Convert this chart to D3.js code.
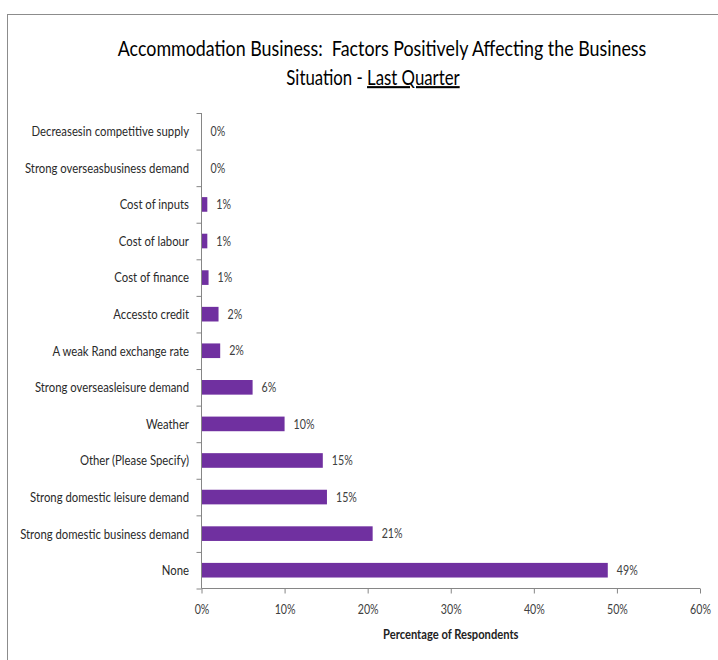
<!DOCTYPE html>
<html>
<head>
<meta charset="utf-8">
<script src="https://cdn.jsdelivr.net/npm/d3@7"></script>
<style>
  html, body { margin: 0; padding: 0; background: #fff; }
  svg { display: block; }
  text { font-family: Lato, "Open Sans", sans-serif; white-space: pre; }
</style>
</head>
<body>
<svg id="chart" width="718" height="660"></svg>
<script>
// Factors positively affecting the business situation, last quarter
const categories = [
  "Decreasesin competitive supply",
  "Strong overseasbusiness demand",
  "Cost of inputs",
  "Cost of labour",
  "Cost of finance",
  "Accessto credit",
  "A weak Rand exchange rate",
  "Strong overseasleisure demand",
  "Weather",
  "Other (Please Specify)",
  "Strong domestic leisure demand",
  "Strong domestic business demand",
  "None"
];
// Percentage of respondents
const values = [0, 0, 0.7, 0.7, 0.85, 2.05, 2.25, 6.15, 10.0, 14.6, 15.1, 20.6, 48.9];
const xTicks = [0, 10, 20, 30, 40, 50, 60];
const titleLine1 = "Accommodation Business:  Factors Positively Affecting the Business";
const titleLine2 = "Situation - ";
const titleUnderlined = "Last Quarter";
const xAxisTitle = "Percentage of Respondents";

const svg = d3.select("#chart");
const plot = { left: 201.5, right: 700, top: 113, bottom: 588.5 };
const purple = "#7030a0";
const axisGrey = "#868686";

// chart area frame
svg.append("rect")
  .attr("x", 7.5).attr("y", 14.5)
  .attr("width", 800).attr("height", 700)
  .attr("fill", "#fff").attr("stroke", "#8c8c8c").attr("stroke-width", 1);

// narrow each text horizontally about its anchor point
function condense(sel, k) {
  sel.each(function () {
    const t = d3.select(this);
    const x0 = +t.attr("x") || 0, y0 = +t.attr("y") || 0;
    t.attr("x", 0).attr("y", 0)
      .attr("transform", `translate(${x0},${y0}) scale(${k},1)`);
  });
}

const x = d3.scaleLinear().domain([0, 60]).range([plot.left, plot.right]);
const y = d3.scaleBand().domain(categories).range([plot.top, plot.bottom])
  .paddingInner(0.6).paddingOuter(0.3);
const slot = d3.scaleLinear().domain([0, categories.length]).range([plot.top, plot.bottom]);

// bars
svg.append("g").selectAll("rect")
  .data(categories)
  .join("rect")
  .attr("x", x(0))
  .attr("y", d => y(d))
  .attr("width", (d, i) => x(values[i]) - x(0))
  .attr("height", y.bandwidth())
  .attr("fill", purple);

// value labels
const fmt = v => d3.format(".0f")(v) + "%";
const vl = svg.append("g").selectAll("text")
  .data(categories)
  .join("text")
  .attr("x", (d, i) => x(values[i]) + 9)
  .attr("y", d => y(d) + y.bandwidth() / 2)
  .attr("dy", "0.36em")
  .attr("font-size", 13)
  .attr("fill", "#404040")
  .text((d, i) => fmt(values[i]));
condense(vl, 0.82);

// category labels
const cl = svg.append("g").selectAll("text")
  .data(categories)
  .join("text")
  .attr("x", plot.left - 12.5)
  .attr("y", d => y(d) + y.bandwidth() / 2)
  .attr("dy", "0.36em")
  .attr("text-anchor", "end")
  .attr("font-size", 13.5)
  .attr("fill", "#2a2a2a")
  .text(d => d);
condense(cl, 0.84);

// y axis: tick marks between categories
const yAxis = svg.append("g")
  .attr("transform", `translate(${plot.left},0)`)
  .call(d3.axisLeft(slot).tickValues(d3.range(categories.length + 1))
    .tickSize(5).tickFormat(""));
yAxis.select(".domain").attr("stroke", axisGrey).attr("d", `M0,${plot.top}V${plot.bottom}`);
yAxis.selectAll(".tick line").attr("stroke", axisGrey);

// x axis
const xAxis = svg.append("g")
  .attr("transform", `translate(0,${plot.bottom})`)
  .call(d3.axisBottom(x).tickValues(xTicks).tickSize(5).tickPadding(11)
    .tickFormat(d => d + "%"));
xAxis.select(".domain").attr("stroke", axisGrey).attr("d", `M${plot.left},0H${plot.right}`);
xAxis.selectAll(".tick line").attr("stroke", axisGrey);
xAxis.selectAll(".tick text")
  .attr("font-family", "Lato, sans-serif").attr("font-size", 13).attr("fill", "#404040")
  .attr("transform", "scale(0.82,1)");

// x axis title
const xt = svg.append("text")
  .attr("x", (plot.left + plot.right) / 2)
  .attr("y", 639)
  .attr("text-anchor", "middle")
  .attr("font-size", 13)
  .attr("font-weight", "bold")
  .attr("fill", "#222")
  .text(xAxisTitle);
condense(xt, 0.86);

// chart title, two centred lines, second with underlined period
const t1 = svg.append("text")
  .attr("x", 382).attr("y", 56)
  .attr("text-anchor", "middle")
  .attr("font-size", 21)
  .attr("fill", "#000")
  .text(titleLine1);
condense(t1, 0.85);

const t2 = svg.append("text")
  .attr("x", 373).attr("y", 85)
  .attr("text-anchor", "middle")
  .attr("font-size", 21)
  .attr("fill", "#000");
t2.append("tspan").text(titleLine2);
t2.append("tspan").attr("text-decoration", "underline").text(titleUnderlined);
condense(t2, 0.8);
</script>
</body>
</html>
